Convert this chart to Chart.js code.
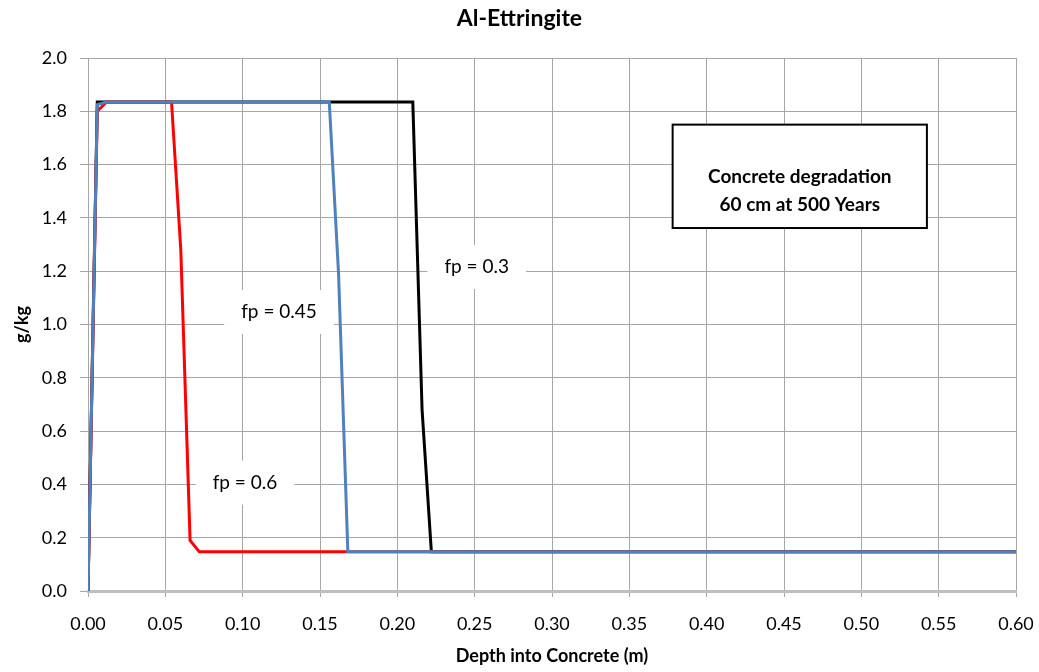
<!DOCTYPE html>
<html>
<head>
<meta charset="utf-8">
<script src="https://cdn.jsdelivr.net/npm/chart.js@4/dist/chart.umd.min.js"></script>
<style>
  html, body { margin: 0; padding: 0; background: #fff; }
  #wrap { width: 1039px; height: 672px; position: relative; }
</style>
</head>
<body>
<div id="wrap"><canvas id="chart" width="1039" height="672"></canvas></div>
<script>
// chart data
const xTickValues = [0, 0.05, 0.1, 0.15, 0.2, 0.25, 0.3, 0.35, 0.4, 0.45, 0.5, 0.55, 0.6];
const yTickValues = [0, 0.2, 0.4, 0.6, 0.8, 1.0, 1.2, 1.4, 1.6, 1.8, 2.0];

const fp03Depth = [0, 0.006, 0.012, 0.210, 0.216, 0.222, 0.600];
const fp03Value = [0, 1.835, 1.835, 1.835, 0.68, 0.147, 0.147];

const fp06Depth = [0, 0.006, 0.012, 0.054, 0.060, 0.066, 0.072, 0.600];
const fp06Value = [0, 1.80, 1.835, 1.835, 1.28, 0.19, 0.147, 0.147];

const fp045Depth = [0, 0.006, 0.012, 0.156, 0.162, 0.168, 0.600];
const fp045Value = [0, 1.825, 1.835, 1.835, 1.19, 0.147, 0.147];

const seriesLabels = ['fp = 0.3', 'fp = 0.6', 'fp = 0.45'];
const seriesColors = ['#000000', '#ff0000', '#4f81bd'];

const FONT = 'Lato, "Open Sans", sans-serif';

function toPoints(xs, ys) {
    return xs.map((x, i) => ({ x: x, y: ys[i] }));
}

// labels next to the curves, anchored in data units
const curveLabels = [
    { text: 'fp = 0.3', x: 0.2513, y: 1.216 },
    { text: 'fp = 0.45', x: 0.1235, y: 1.047 },
    { text: 'fp = 0.6', x: 0.1015, y: 0.407 }
];

const noteBox = { lines: ['Concrete degradation', '60 cm at 500 Years'], x1: 0.378, x2: 0.5424, y1: 1.75, y2: 1.362 };

const labelPlugin = {
    id: 'labels',
    afterDatasetsDraw(chart) {
        const ctx = chart.ctx;
        const xs = chart.scales.x, ys = chart.scales.y;
        ctx.save();

        // curve labels on white patches
        ctx.font = '19px ' + FONT;
        ctx.textAlign = 'center';
        ctx.textBaseline = 'middle';
        curveLabels.forEach(l => {
            const px = xs.getPixelForValue(l.x);
            const py = ys.getPixelForValue(l.y);
            const w = ctx.measureText(l.text).width + 34;
            const h = 44;
            ctx.fillStyle = '#fff';
            ctx.fillRect(px - w / 2, py - h / 2, w, h);
            ctx.fillStyle = '#000';
            ctx.fillText(l.text, px, py);
        });

        // note box
        const bx1 = xs.getPixelForValue(noteBox.x1), bx2 = xs.getPixelForValue(noteBox.x2);
        const by1 = ys.getPixelForValue(noteBox.y1), by2 = ys.getPixelForValue(noteBox.y2);
        ctx.fillStyle = '#fff';
        ctx.fillRect(bx1, by1, bx2 - bx1, by2 - by1);
        ctx.strokeStyle = '#000';
        ctx.lineWidth = 2;
        ctx.strokeRect(bx1, by1, bx2 - bx1, by2 - by1);
        ctx.fillStyle = '#000';
        ctx.font = 'bold 19px ' + FONT;
        const cx = (bx1 + bx2) / 2, cy = (by1 + by2) / 2;
        ctx.fillText(noteBox.lines[0], cx, cy + 1);
        ctx.fillText(noteBox.lines[1], cx, cy + 29);

        ctx.restore();
    },
    afterDraw(chart) {
        const ctx = chart.ctx;
        ctx.save();
        ctx.font = 'bold 23px ' + FONT;
        ctx.fillStyle = '#000';
        ctx.textAlign = 'center';
        ctx.textBaseline = 'middle';
        ctx.fillText('Al-Ettringite', chart.width / 2, 19);
        ctx.restore();
    }
};

new Chart(document.getElementById('chart'), {
    type: 'line',
    data: {
        datasets: [
            { label: seriesLabels[2], data: toPoints(fp045Depth, fp045Value), borderColor: seriesColors[2], order: 1 },
            { label: seriesLabels[1], data: toPoints(fp06Depth, fp06Value), borderColor: seriesColors[1], order: 2 },
            { label: seriesLabels[0], data: toPoints(fp03Depth, fp03Value), borderColor: seriesColors[0], order: 3 }
        ]
    },
    options: {
        responsive: false,
        animation: false,
        layout: { padding: { top: 58, right: 23, left: 0, bottom: 0 } },
        elements: {
            line: { borderWidth: 3, tension: 0, borderJoinStyle: 'miter' },
            point: { radius: 0 }
        },
        plugins: {
            legend: { display: false },
            tooltip: { enabled: false },
            title: { display: false }
        },
        scales: {
            x: {
                type: 'linear',
                min: 0,
                max: 0.6,
                afterFit: s => {
                    s.height = 81;
                    // keep the plot edge fixed, the last label fits in the padding
                    s.paddingLeft = 0;
                    s.paddingRight = 0;
                },
                afterBuildTicks: s => { s.ticks = xTickValues.map(v => ({ value: v })); },
                ticks: {
                    callback: v => v.toFixed(2),
                    font: { family: FONT, size: 18 },
                    color: '#000',
                    padding: 16,
                    maxRotation: 0,
                    autoSkip: false
                },
                grid: { color: '#a6a6a6', lineWidth: 1, tickLength: 6, tickColor: '#a6a6a6' },
                border: { color: '#bfbfbf', width: 3 },
                title: {
                    display: true,
                    text: 'Depth into Concrete (m)',
                    font: { family: FONT, size: 18, weight: 'bold' },
                    color: '#000',
                    padding: { top: 6, bottom: 5 }
                }
            },
            y: {
                type: 'linear',
                min: 0,
                max: 2,
                afterFit: s => { s.width = 88; },
                afterBuildTicks: s => { s.ticks = yTickValues.map(v => ({ value: v })); },
                ticks: {
                    callback: v => v.toFixed(1),
                    font: { family: FONT, size: 18 },
                    color: '#000',
                    padding: 13,
                    autoSkip: false
                },
                grid: { color: '#a6a6a6', lineWidth: 1, tickLength: 8, tickColor: '#a6a6a6' },
                border: { color: '#a6a6a6', width: 1 },
                title: {
                    display: true,
                    text: 'g/kg',
                    font: { family: FONT, size: 18, weight: 'bold' },
                    color: '#000',
                    padding: { top: 11, bottom: 4 }
                }
            }
        }
    },
    plugins: [labelPlugin]
});
</script>
</body>
</html>
